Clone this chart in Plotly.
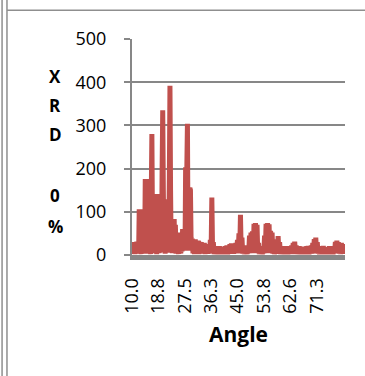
import plotly.graph_objects as go

# Angle (degrees) and XRD intensity
angle = [
    10.0, 10.2, 10.4, 10.6, 10.8, 11.0, 11.2, 11.4, 11.6, 11.8,
    12.0, 12.2, 12.4, 12.6, 12.8, 13.0, 13.2, 13.4, 13.6, 13.8,
    14.0, 14.2, 14.4, 14.6, 14.8, 15.0, 15.2, 15.4, 15.6, 15.8,
    16.0, 16.2, 16.4, 16.6, 16.8, 17.0, 17.2, 17.4, 17.6, 17.8,
    18.0, 18.2, 18.4, 18.6, 18.8, 19.0, 19.2, 19.4, 19.6, 19.8,
    20.0, 20.2, 20.4, 20.6, 20.8, 21.0, 21.2, 21.4, 21.6, 21.8,
    22.0, 22.2, 22.4, 22.6, 22.8, 23.0, 23.2, 23.4, 23.6, 23.8,
    24.0, 24.2, 24.4, 24.6, 24.8, 25.0, 25.2, 25.4, 25.6, 25.8,
    26.0, 26.2, 26.4, 26.6, 26.8, 27.0, 27.2, 27.4, 27.6, 27.8,
    28.0, 28.2, 28.4, 28.6, 28.8, 29.0, 29.2, 29.4, 29.6, 29.8,
    30.0, 30.25, 30.5, 30.75,
    31.0, 31.25, 31.5, 31.75, 32.0, 32.25, 32.5, 32.75,
    33.0, 33.25, 33.5, 33.75, 34.0, 34.25, 34.5, 34.75,
    35.0, 35.25, 35.5, 35.75, 36.0, 36.25, 36.5, 36.75,
    37.0, 37.25, 37.5, 37.75, 38.0, 38.25, 38.5, 38.75,
    39.0, 39.25, 39.5, 39.75, 40.0, 40.25, 40.5, 40.75,
    41.0, 41.25, 41.5, 41.75, 42.0, 42.25, 42.5, 42.75,
    43.0, 43.25, 43.5, 43.75, 44.0, 44.25, 44.5, 44.75,
    45.0, 45.25, 45.5, 45.75, 46.0, 46.25, 46.5, 46.75,
    47.0, 47.25, 47.5, 47.75, 48.0, 48.25, 48.5, 48.75,
    49.0, 49.25, 49.5, 49.75, 50.0, 50.25, 50.5, 50.75,
    51.0, 51.25, 51.5, 51.75, 52.0, 52.25, 52.5, 52.75,
    53.0, 53.25, 53.5, 53.75, 54.0, 54.25, 54.5, 54.75,
    55.0, 55.25, 55.5, 55.75, 56.0, 56.25, 56.5, 56.75,
    57.0, 57.25, 57.5, 57.75, 58.0, 58.25, 58.5, 58.75,
    59.0, 59.25, 59.5, 59.75, 60.0, 60.25, 60.5, 60.75,
    61.0, 61.25, 61.5, 61.75, 62.0, 62.25, 62.5, 62.75,
    63.0, 63.25, 63.5, 63.75, 64.0, 64.25, 64.5, 64.75,
    65.0, 65.25, 65.5, 65.75, 66.0, 66.25, 66.5, 66.75,
    67.0, 67.25, 67.5, 67.75, 68.0, 68.25, 68.5, 68.75,
    69.0, 69.25, 69.5, 69.75, 70.0, 70.25, 70.5, 70.75,
    71.0, 71.25, 71.5, 71.75, 72.0, 72.25, 72.5, 72.75,
    73.0, 73.25, 73.5, 73.75, 74.0, 74.25, 74.5, 74.75,
    75.0, 75.25, 75.5, 75.75, 76.0, 76.25, 76.5, 76.75,
    77.0, 77.25, 77.5, 77.75, 78.0, 78.25, 78.5, 78.75,
    79.0, 79.25, 79.5, 79.75, 80.0, 80.25, 80.5,
]
intensity = [
    18, 3, 27, 4, 30, 2, 29, 5, 31, 3,
    30, 6, 106, 4, 104, 2, 106, 6, 100, 3,
    105, 5, 176, 3, 172, 8, 176, 4, 60, 6,
    90, 2, 140, 280, 60, 8, 130, 4, 141, 6,
    138, 2, 141, 8, 136, 4, 140, 6, 130, 10,
    200, 335, 150, 6, 129, 3, 125, 8, 129, 5,
    120, 30, 180, 392, 150, 10, 83, 4, 80, 8,
    83, 6, 70, 3, 52, 5, 50, 2, 52, 6,
    50, 3, 48, 8, 60, 12, 55, 40, 10, 203,
    15, 200, 304, 20, 157, 10, 155, 150, 40, 12,
    38, 4, 36, 2,
    36, 3, 33, 5, 33, 2, 30, 4,
    30, 3, 28, 5, 28, 2, 25, 4,
    25, 3, 22, 4, 35, 5, 133, 5,
    30, 2, 20, 3, 18, 2, 18, 4,
    20, 2, 17, 3, 19, 2, 18, 4,
    20, 3, 22, 2, 20, 4, 25, 3,
    27, 5, 22, 3, 20, 4, 28, 5,
    35, 4, 50, 6, 93, 5, 40, 3,
    22, 2, 20, 4, 18, 2, 22, 5,
    45, 4, 52, 6, 55, 5, 72, 4,
    74, 6, 70, 4, 28, 2, 18, 3,
    20, 2, 18, 4, 45, 5, 72, 4,
    74, 6, 71, 5, 56, 4, 52, 3,
    28, 2, 20, 3, 36, 4, 44, 5,
    30, 2, 20, 3, 18, 2, 20, 4,
    20, 3, 17, 2, 18, 4, 20, 3,
    22, 2, 28, 4, 31, 3, 22, 2,
    18, 3, 20, 2, 19, 4, 19, 3,
    18, 2, 18, 4, 20, 3, 21, 2,
    20, 4, 22, 3, 28, 4, 37, 5,
    40, 4, 30, 3, 20, 2, 19, 4,
    18, 3, 21, 2, 18, 4, 18, 3,
    17, 2, 20, 4, 18, 3, 17, 2,
    20, 4, 30, 5, 33, 4, 30, 3,
    22, 2, 28, 4, 25, 3, 18,
]

tick_vals = [10.0, 18.76, 27.52, 36.28, 45.04, 53.8, 62.56, 71.32]
tick_text = ["10.0", "18.8", "27.5", "36.3", "45.0", "53.8", "62.6", "71.3"]
y_title_chars = ["X", "R", "D", "0", "%"]
y_title_pos = [0.826, 0.692, 0.558, 0.276, 0.132]

FONT = "Open Sans"
GRID = "#878787"

fig = go.Figure()
fig.add_trace(go.Scatter(
    x=angle, y=intensity, mode="lines",
    line=dict(color="#C0504D", width=5, simplify=False),
    hoverinfo="skip", showlegend=False,
))

fig.update_layout(
    width=365, height=376,
    margin=dict(l=132, r=20, t=39, b=121, pad=0),
    paper_bgcolor="white", plot_bgcolor="white",
    font=dict(family=FONT, color="black", size=18),
    xaxis=dict(
        range=[10, 80.7], tickmode="array", tickvals=tick_vals, ticktext=tick_text,
        tickangle=-90, tickfont=dict(size=18, family=FONT), showgrid=False,
        zeroline=False, showline=True, linecolor=GRID, linewidth=5, ticks="",
        ticklabelstandoff=11,
    ),
    yaxis=dict(
        range=[0, 500], dtick=100, tickfont=dict(size=18, family=FONT),
        showgrid=True, gridcolor=GRID, gridwidth=2, zeroline=False,
        showline=True, linecolor=GRID, linewidth=2,
        ticks="outside", ticklen=6, tickcolor=GRID, tickwidth=2,
        ticklabelstandoff=14,
    ),
)

for ch, yp in zip(y_title_chars, y_title_pos):
    fig.add_annotation(text="<b>%s</b>" % ch, x=-0.3615, y=yp, xref="paper", yref="paper",
                       showarrow=False, xanchor="center", yanchor="middle",
                       font=dict(size=17, family=FONT, color="black"))

fig.add_annotation(text="<b>Angle</b>", x=0.5, y=-0.365, xref="paper", yref="paper",
                   showarrow=False, xanchor="center", yanchor="middle",
                   font=dict(size=21, family=FONT, color="black"))

# chart frame lines
BORDER = "#8f8f8f"
fig.add_shape(type="line", xref="paper", yref="paper", x0=-0.610, x1=-0.610, y0=1.181, y1=-0.56,
              line=dict(color=BORDER, width=1.5))
fig.add_shape(type="line", xref="paper", yref="paper", x0=-0.587, x1=-0.587, y0=1.181, y1=-0.56,
              line=dict(color=BORDER, width=1.5))
fig.add_shape(type="line", xref="paper", yref="paper", x0=-0.587, x1=1.094, y0=1.133, y1=1.133,
              line=dict(color=BORDER, width=1.5))

fig.write_html("out.html")
